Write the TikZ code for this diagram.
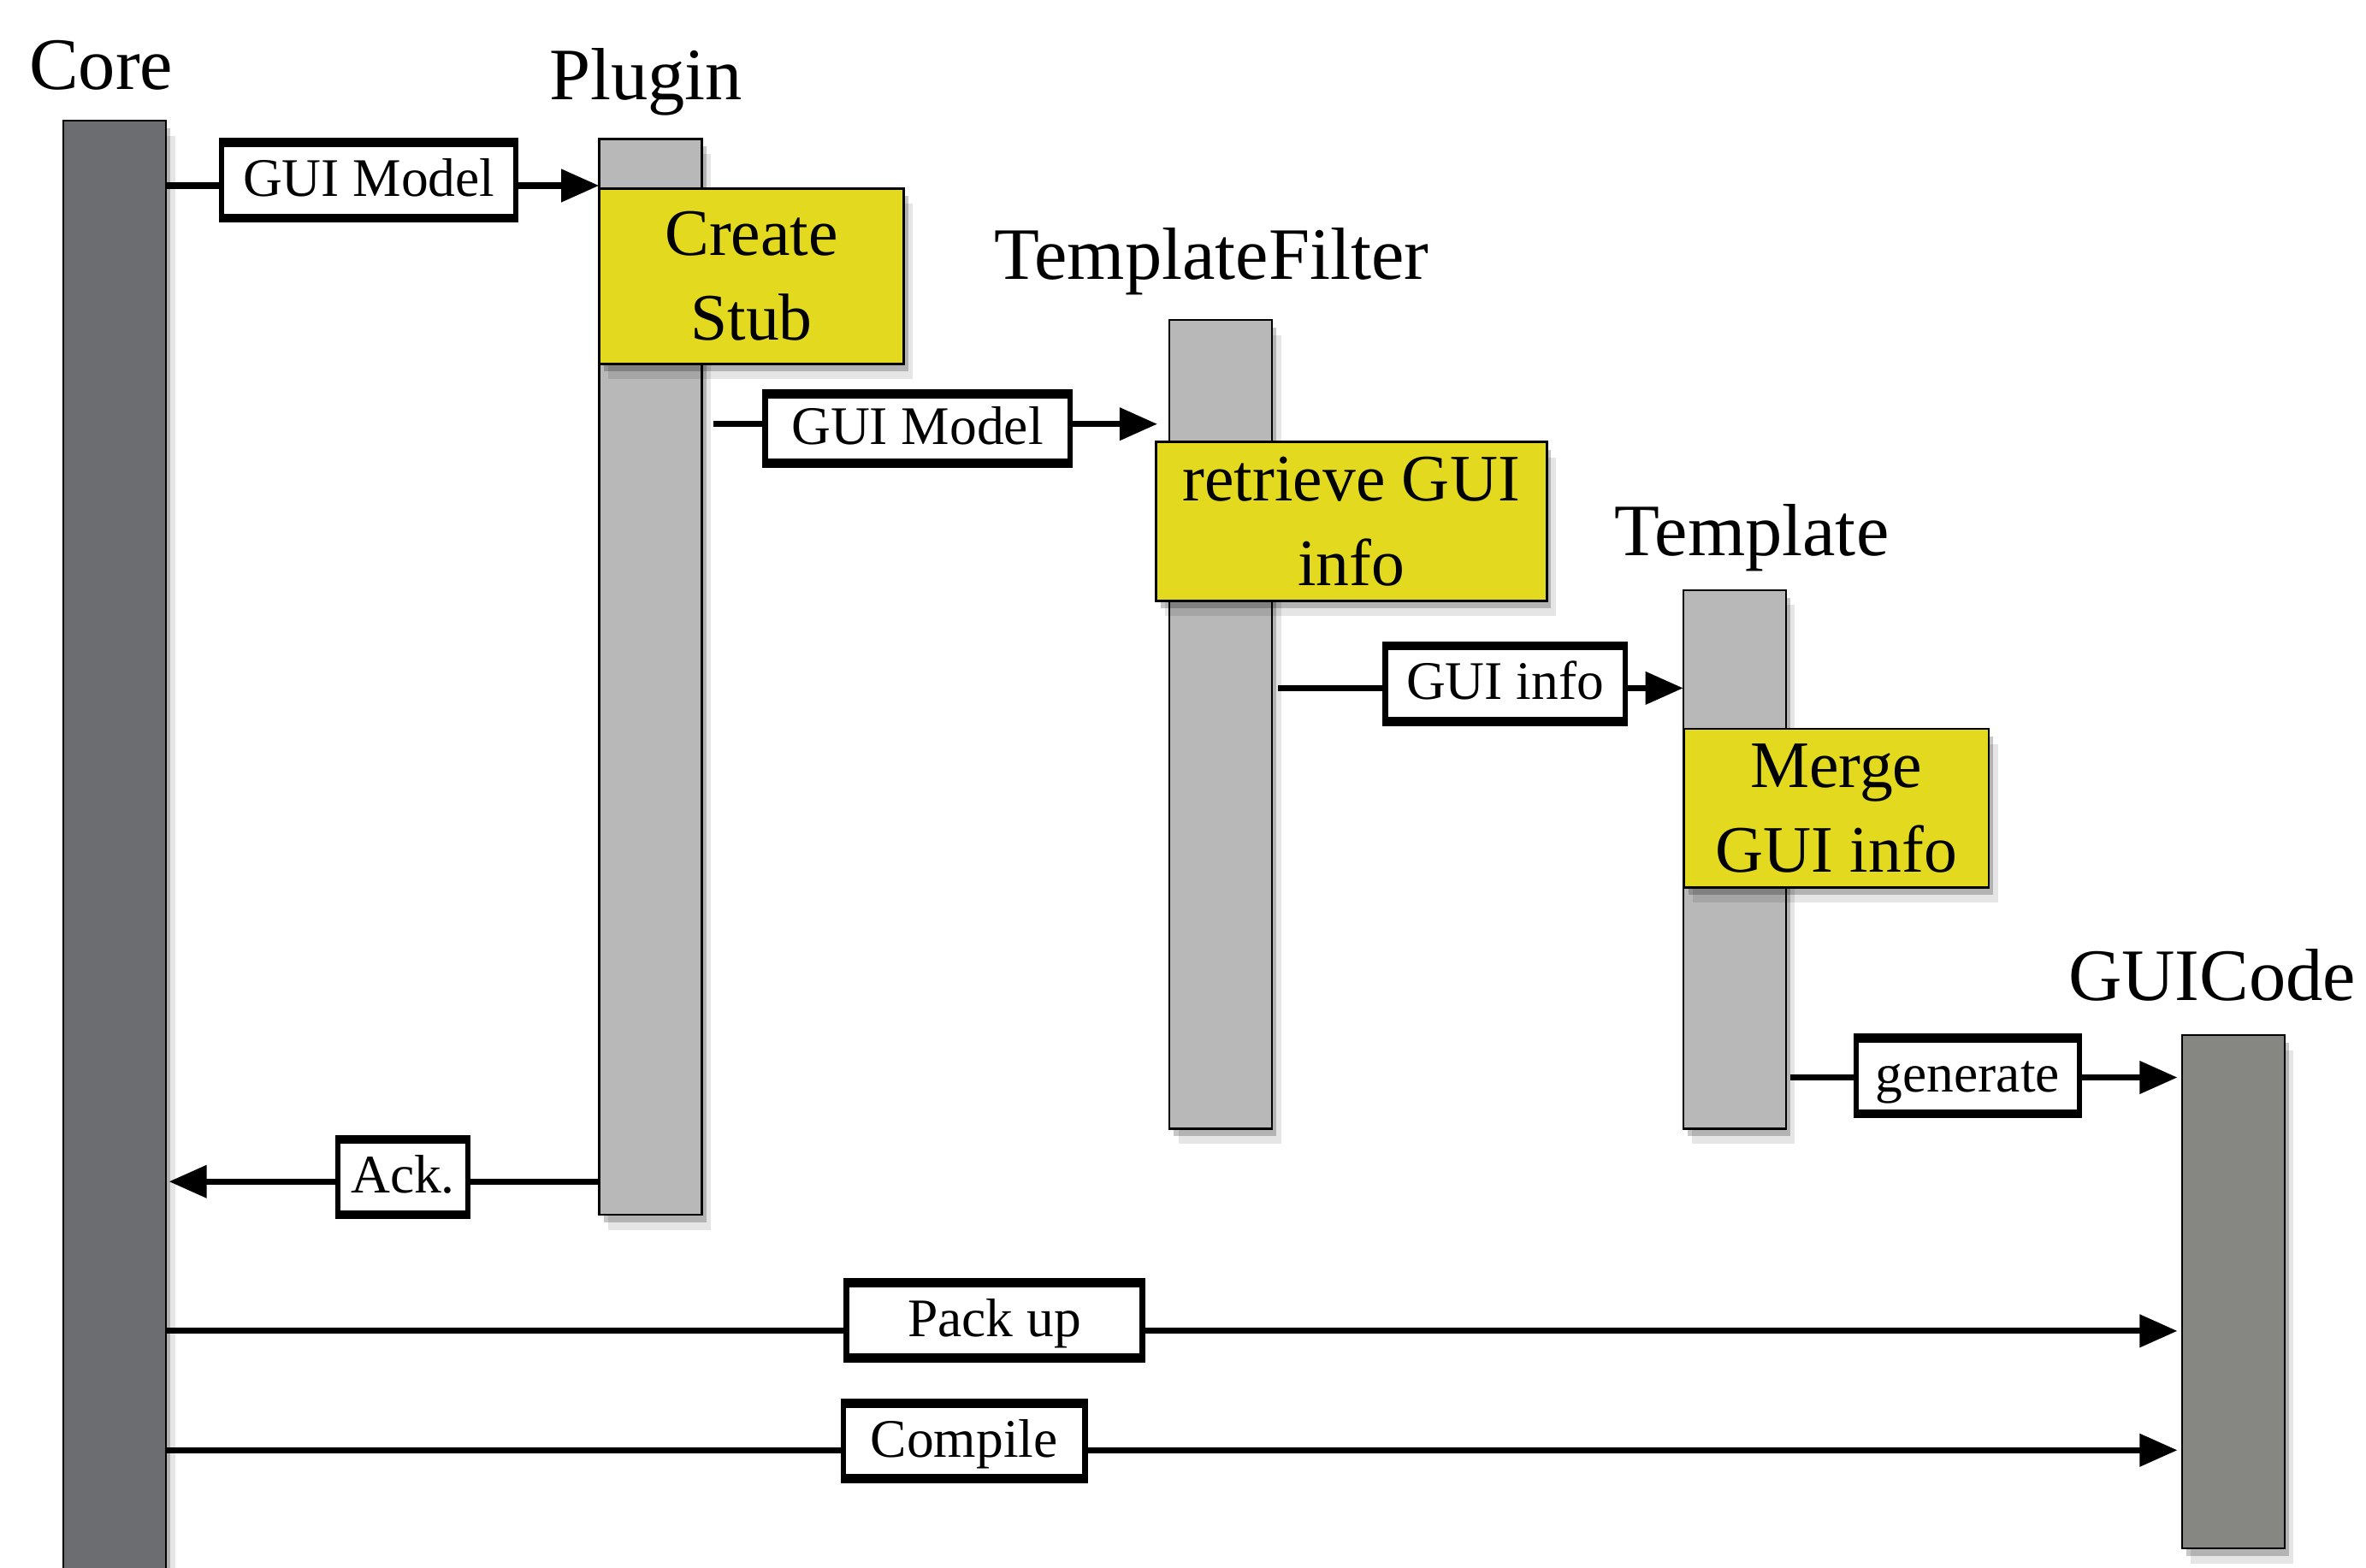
\documentclass[tikz,border=0pt]{standalone}
\usepackage{fontspec}
\setmainfont{Liberation Serif}
\usetikzlibrary{arrows.meta,shadows}
\definecolor{coregray}{HTML}{6C6D70}
\definecolor{lifegray}{HTML}{B8B8B8}
\definecolor{codegray}{HTML}{868783}
\definecolor{actyellow}{HTML}{E3D91F}
\begin{document}
\begin{tikzpicture}[x=0.5pt,y=-0.5pt,
  softshadow/.style={
    drop shadow={shadow xshift=1.5pt, shadow yshift=-2.5pt, opacity=0.22, fill=black},
    drop shadow={shadow xshift=3pt, shadow yshift=-5pt, opacity=0.10, fill=black}},
  bar/.style={draw=black, line width=0.7pt, minimum width=34pt, inner sep=0pt, outer sep=0pt, softshadow},
  activity/.style={draw=black, line width=0.8pt, fill=actyellow, inner sep=0pt, outer sep=0pt, align=center, softshadow,
    font=\fontsize{22}{28}\selectfont},
  head/.style={anchor=base, inner sep=0pt, font=\fontsize{24.5}{29}\selectfont},
  msg/.style={draw=black, fill=white, line width=1.8pt, outer sep=0pt, inner sep=0pt, minimum height=25pt,
    text height=13.5pt, text depth=3pt,
    font=\fontsize{18}{20}\selectfont,
    append after command={
      (\tikzlastnode.north west) edge[draw, line width=3pt, shorten <=-0.9pt, shorten >=-0.9pt] (\tikzlastnode.north east)
      (\tikzlastnode.south west) edge[draw, line width=3pt, shorten <=-0.9pt, shorten >=-0.9pt] (\tikzlastnode.south east)}},
  msgarrow/.style={draw=black, line width=2pt, -{Triangle[length=12.5pt,width=10.5pt]}}
]
\useasboundingbox (0,0) rectangle (1568,1039);

% lifeline headings
\node[head] (hcore) at (67,59) {Core};
\node[head] (hplugin) at (428,66) {Plugin};
\node[head] (hfilter) at (803,185) {TemplateFilter};
\node[head] (htemplate) at (1161,368) {Template};
\node[head] (hcode) at (1466,663) {GUICode};

% lifeline bars
\node[bar, fill=coregray, minimum height=482.5pt] (core) at (76,562.5) {};
\node[bar, fill=lifegray, minimum height=356.5pt] (plugin) at (431,448.5) {};
\node[bar, fill=lifegray, minimum height=268pt] (filter) at (809,480) {};
\node[bar, fill=lifegray, minimum height=178.5pt] (template) at (1149.5,569.5) {};
\node[bar, fill=codegray, minimum height=170pt] (code) at (1480,856) {};

% activities
\node[activity, minimum width=101pt, minimum height=58pt] (stub) at (498,183) {Create\\Stub};
\node[activity, minimum width=129.5pt, minimum height=52.5pt] (retrieve) at (895.5,345.5) {retrieve GUI\\info};
\node[activity, minimum width=101pt, minimum height=52.5pt] (merge) at (1217,535.5) {Merge\\GUI info};

% arrow heights
\coordinate (y1) at (0,123);
\coordinate (y2) at (0,281);
\coordinate (y3) at (0,456);
\coordinate (y4) at (0,714);
\coordinate (y5) at (0,783);
\coordinate (y6) at (0,882);
\coordinate (y7) at (0,961);

% messages
\draw[msgarrow] (core.east |- y1) -- (plugin.west |- y1);
\draw[msgarrow] ([xshift=4pt]plugin.east |- y2) -- ([xshift=-4pt]filter.west |- y2);
\draw[msgarrow] ([xshift=2pt]filter.east |- y3) -- (template.west |- y3);
\draw[msgarrow] ([xshift=1.5pt]template.east |- y4) -- ([xshift=-1.5pt]code.west |- y4);
\draw[msgarrow] (plugin.west |- y5) -- ([xshift=1pt]core.east |- y5);
\draw[msgarrow] (core.east |- y6) -- ([xshift=-1.5pt]code.west |- y6);
\draw[msgarrow] (core.east |- y7) -- ([xshift=-1.5pt]code.west |- y7);

\node[msg, minimum width=97.5pt] (m1) at (244.5,119.5) {GUI Model};
\node[msg, minimum width=101pt, minimum height=23pt] (m2) at (608,284) {GUI Model};
\node[msg, minimum width=79.5pt] (m3) at (997.5,453) {GUI info};
\node[msg, minimum width=74pt] (m4) at (1304,713) {generate};
\node[msg, minimum width=43pt] (m5) at (267,780) {Ack.};
\node[msg, minimum width=98pt] (m6) at (659,875) {Pack up};
\node[msg, minimum width=80pt] (m7) at (639,955) {Compile};
\end{tikzpicture}
\end{document}
